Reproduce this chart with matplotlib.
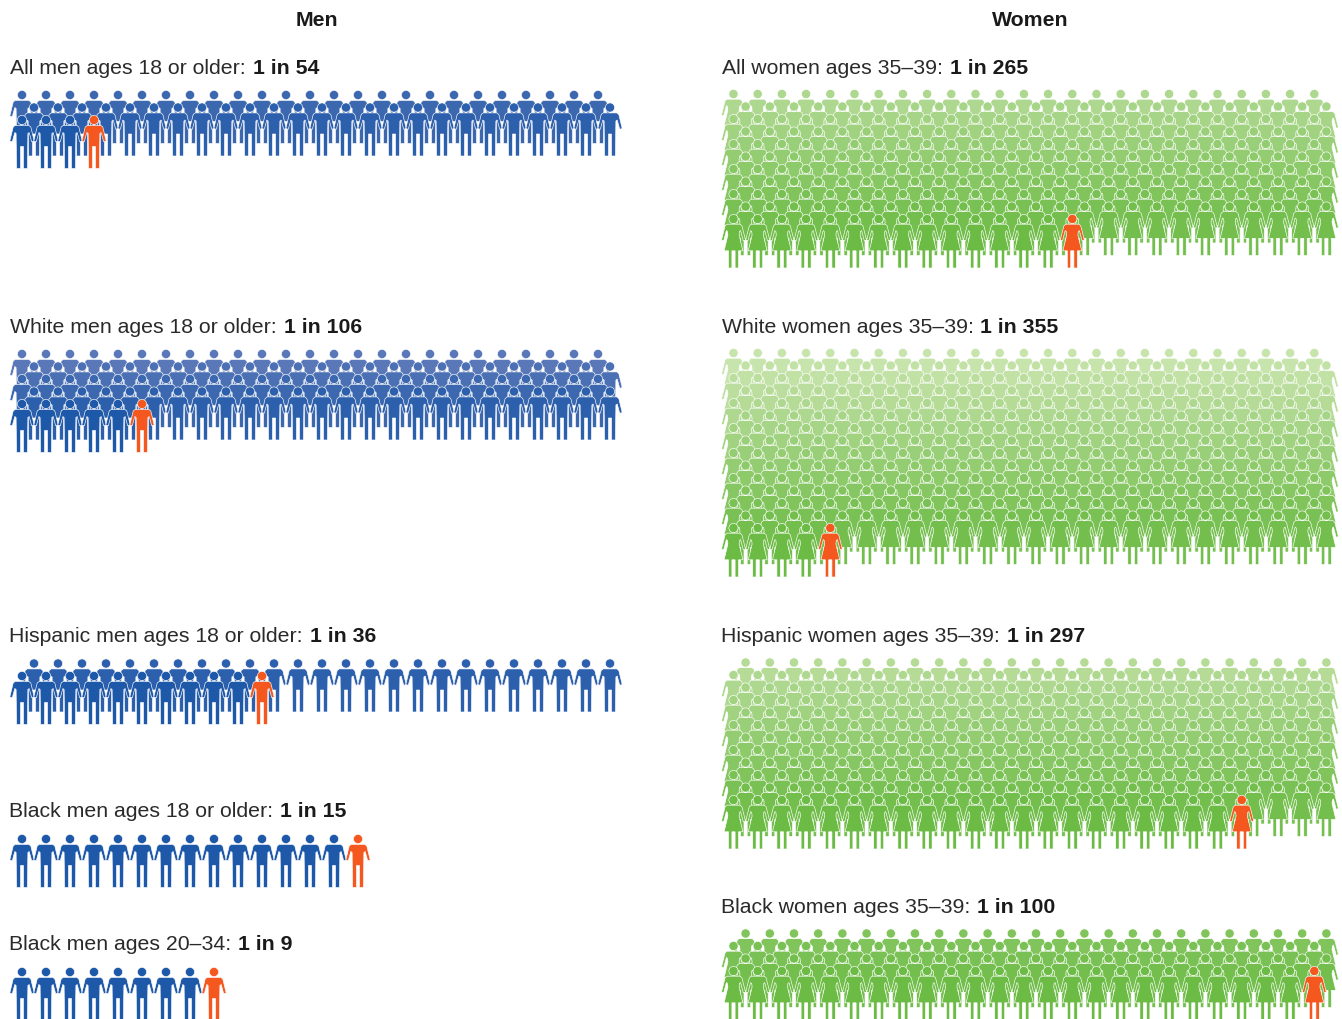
#!/usr/bin/env python3
"""Pictograms: one person highlighted out of N, for men and women by group."""

import matplotlib
matplotlib.use("Agg")
import matplotlib.pyplot as plt
import numpy as np
from matplotlib.patches import PathPatch
from matplotlib.path import Path

men_labels = [
    "All men ages 18 or older:",
    "White men ages 18 or older:",
    "Hispanic men ages 18 or older:",
    "Black men ages 18 or older:",
    "Black men ages 20–34:",
]
men_counts = [54, 106, 36, 15, 9]

women_labels = [
    "All women ages 35–39:",
    "White women ages 35–39:",
    "Hispanic women ages 35–39:",
    "Black women ages 35–39:",
]
women_counts = [265, 355, 297, 100]

# layout, in pixels of the 1342x1020 picture
PER_ROW = 25
ROW_DY = 12.5
MEN_X0, MEN_STEP = 22.0, 24.0
WOMEN_X0, WOMEN_STEP = 733.5, 24.2
men_head_y = [121, 405, 677, 840, 973]
women_head_y = [220, 529, 801, 972]
men_label_xy = [(10, 74), (10, 333), (9, 642), (9, 817), (9, 950)]
women_label_xy = [(722, 74), (721.5, 333), (721, 642), (721, 913)]

ORANGE = "#f4581f"
MEN_FRONT = np.array([30, 88, 168])
MEN_STEP_RGB = np.array([15, 8, 4])
WOMEN_FRONT = np.array([108, 187, 69])
WOMEN_STEP_RGB = np.array([6.6, 2.9, 7.4])

plt.rcParams["font.family"] = ["Liberation Sans", "DejaVu Sans"]


def half_to_shape(right_side):
    """Mirror the right half of a figure into one closed outline."""
    left = [(-x, y) for x, y in reversed(right_side)]
    pts = right_side + left
    codes = [Path.MOVETO] + [Path.LINETO] * (len(pts) - 1) + [Path.CLOSEPOLY]
    return Path(pts + [pts[0]], codes)


# outlines relative to head centre, y pointing down
MAN = Path.make_compound_path(
    Path.circle((0, 0), 4.6),
    half_to_shape([
        (0, 5.4), (6.8, 5.4), (8.8, 7), (12.2, 21), (9.7, 21.8), (7.2, 12.5),
        (5.9, 13.5), (5.4, 48.5), (1.5, 48.5), (1.5, 26.5),
    ]),
)
WOMAN = Path.make_compound_path(
    Path.circle((0, 0), 4.6),
    half_to_shape([
        (0, 5.2), (6.6, 5.2), (8.4, 6.8), (12, 21), (9.8, 21.8), (7.1, 11.5),
        (6.0, 12.5), (5.6, 16), (9.4, 31.8), (5.0, 31.8), (5.0, 49), (1.6, 49),
        (1.6, 31.8),
    ]),
)


def place(shape, x, y):
    return Path(shape.vertices + np.array([x, y]), shape.codes)


def draw_group(ax, shape, count, x0, step, head_y, front, tint):
    """Fill rows of PER_ROW from the back; the front row holds the remainder."""
    n_rows = int(np.ceil(count / PER_ROW))
    for k in range(n_rows - 1, -1, -1):
        in_row = count - PER_ROW * (n_rows - 1) if k == 0 else PER_ROW
        rgb = np.clip(front + k * tint, 0, 255) / 255
        for i in range(in_row):
            x = x0 + i * step + (step / 2 if k % 2 else 0)
            y = head_y - k * ROW_DY
            color = ORANGE if (k == 0 and i == in_row - 1) else rgb
            ax.add_patch(PathPatch(place(shape, x, y), facecolor=color,
                                   edgecolor="white", lw=0.45))


def rich_label(ax, renderer, x, y, label, count):
    txt = ax.text(x, y, label, fontsize=15.3, color="#2a2a2a", va="baseline")
    right = txt.get_window_extent(renderer).x1
    ax.text(right + 7, y, f"1 in {count}", fontsize=15.3, fontweight="bold",
            color="#1a1a1a", va="baseline")


fig = plt.figure(figsize=(13.42, 10.2), dpi=100)
ax = fig.add_axes([0, 0, 1, 1])
ax.set_xlim(0, 1342)
ax.set_ylim(1020, 0)
ax.axis("off")
renderer = fig.canvas.get_renderer()

ax.text(317, 26, "Men", fontsize=15.3, fontweight="bold", ha="center", color="#1a1a1a")
ax.text(1030.5, 26, "Women", fontsize=15.3, fontweight="bold", ha="center", color="#1a1a1a")

for label, count, xy, hy in zip(men_labels, men_counts, men_label_xy, men_head_y):
    rich_label(ax, renderer, xy[0], xy[1], label, count)
    draw_group(ax, MAN, count, MEN_X0, MEN_STEP, hy, MEN_FRONT, MEN_STEP_RGB)

for label, count, xy, hy in zip(women_labels, women_counts, women_label_xy, women_head_y):
    rich_label(ax, renderer, xy[0], xy[1], label, count)
    draw_group(ax, WOMAN, count, WOMEN_X0, WOMEN_STEP, hy, WOMEN_FRONT, WOMEN_STEP_RGB)

fig.savefig("out.png", dpi=100)
